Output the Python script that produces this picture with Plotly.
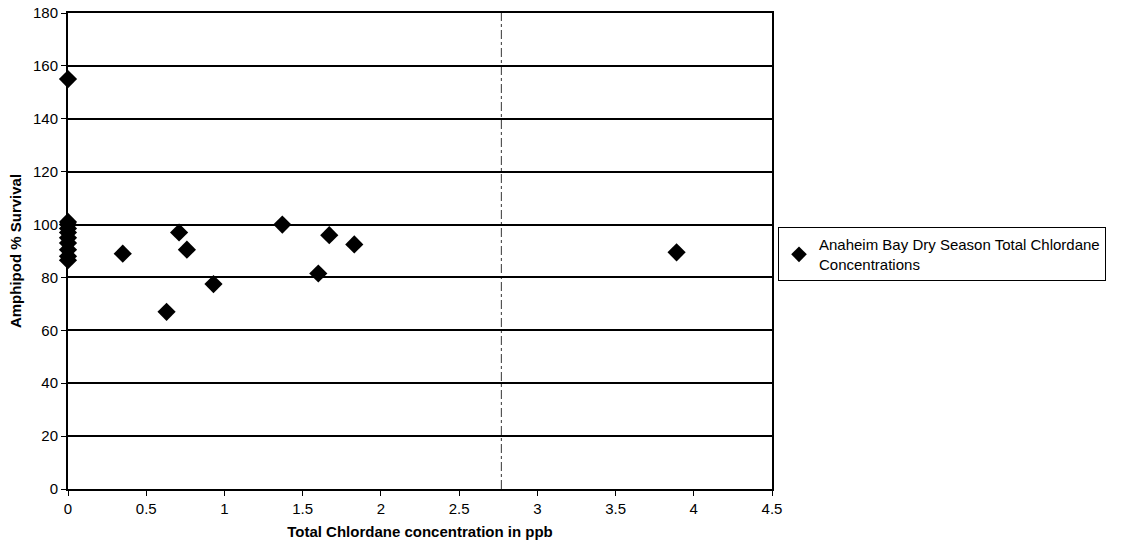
import plotly.graph_objects as go

# Data
chlordane_ppb = [0, 0, 0, 0, 0, 0, 0, 0, 0, 0,
                 0.35, 0.63, 0.71, 0.76, 0.93, 1.37, 1.60, 1.67, 1.83, 3.89]
survival_pct = [155, 101, 100, 98.5, 97, 95, 93, 90.5, 88, 86.5,
                89, 67, 97, 90.5, 77.5, 100, 81.5, 96, 92.5, 89.5]

series_name = "Anaheim Bay Dry Season Total Chlordane<br>Concentrations"
x_ticks = [0, 0.5, 1, 1.5, 2, 2.5, 3, 3.5, 4, 4.5]
x_tick_labels = ["0", "0.5", "1", "1.5", "2", "2.5", "3", "3.5", "4", "4.5"]
y_ticks = [0, 20, 40, 60, 80, 100, 120, 140, 160, 180]

FONT = "Liberation Sans, Arial, sans-serif"

fig = go.Figure()
fig.add_trace(go.Scatter(
    x=chlordane_ppb, y=survival_pct, mode="markers",
    name=series_name,
    marker=dict(symbol="diamond", size=14, color="black"),
    cliponaxis=False, showlegend=True,
))

# dashed vertical (scan fold) line seen in the reference
fig.add_shape(type="line", xref="x", yref="paper", x0=2.77, x1=2.77, y0=0, y1=1,
              line=dict(color="rgba(0,0,0,0.8)", width=1, dash="dashdot"))

fig.update_layout(
    width=1126, height=555,
    margin=dict(l=68, r=354, t=13, b=66),
    paper_bgcolor="white", plot_bgcolor="white",
    font=dict(family=FONT, size=15, color="black"),
    showlegend=True,
    legend=dict(x=(778 - 68) / 704, y=0.493, xanchor="left", yanchor="middle",
                bordercolor="black", borderwidth=1, bgcolor="white",
                font=dict(family=FONT, size=15, color="black"),
                itemsizing="constant", tracegroupgap=0),
    xaxis=dict(range=[0, 4.5], tickvals=x_ticks, ticktext=x_tick_labels,
               showgrid=False, zeroline=False, automargin=False,
               ticklabeloverflow="allow",
               showline=True, linecolor="black", linewidth=2, mirror=True,
               ticks="outside", ticklen=5, tickcolor="black",
               tickfont=dict(family=FONT, size=15),
               title=dict(text="<b>Total Chlordane concentration in ppb</b>",
                          font=dict(family=FONT, size=15), standoff=10)),
    yaxis=dict(range=[0, 180], tickvals=y_ticks,
               showgrid=True, gridcolor="black", gridwidth=2,
               zeroline=False, automargin=False,
               ticklabeloverflow="allow",
               showline=True, linecolor="black", linewidth=2, mirror=True,
               ticks="outside", ticklen=5, tickcolor="black",
               tickfont=dict(family=FONT, size=15),
               title=dict(text="<b>Amphipod % Survival</b>",
                          font=dict(family=FONT, size=15), standoff=8)),
)

fig.write_html(
    "out.html",
    config={"displayModeBar": False},
    post_script="document.body.style.margin='0px';document.body.style.overflow='hidden';",
)
